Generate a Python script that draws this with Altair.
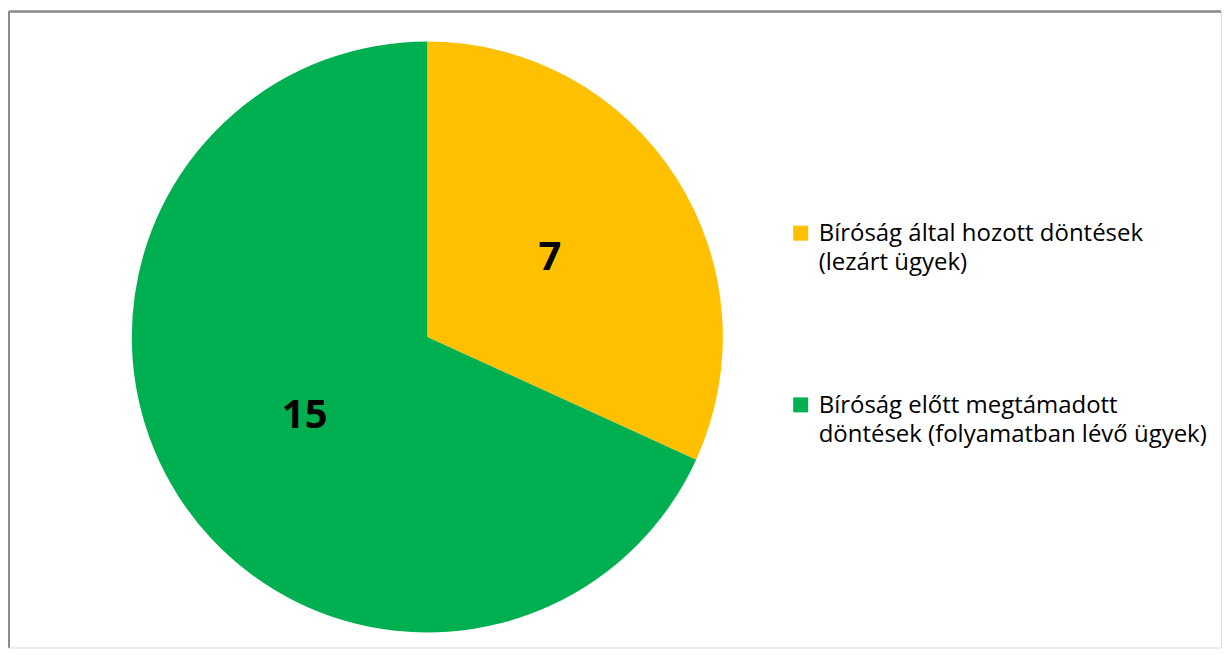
import altair as alt
import pandas as pd

categories = [
    "Bíróság által hozott döntések\n(lezárt ügyek)",
    "Bíróság előtt megtámadott\ndöntések (folyamatban lévő ügyek)",
]
values = [7, 15]
colors = ["#FFC000", "#00B050"]
order = [1, 2]

df = pd.DataFrame({"cat": categories, "val": values, "ord": order})

W, H = 1214, 637
cx, cy, R = 419, 326, 296
border = "#8a8a8a"

base = alt.Chart(df).encode(
    theta=alt.Theta("val:Q", stack=True),
    order=alt.Order("ord:Q"),
)

pie = base.mark_arc(radius=R, stroke=None).encode(
    x=alt.value(cx),
    y=alt.value(cy),
    color=alt.Color(
        "cat:N",
        scale=alt.Scale(domain=categories, range=colors),
        sort=categories,
        legend=alt.Legend(
            title=None,
            orient="none",
            legendX=781,
            legendY=210,
            symbolType="square",
            symbolSize=225,
            symbolStrokeWidth=0,
            labelFont="Open Sans",
            labelFontSize=24,
            labelColor="#000000",
            labelLimit=0,
            labelExpr="split(datum.label, '\\n')",
            labelBaseline="alphabetic",
            labelOffset=6,
            rowPadding=118,
        ),
    ),
)

labels = base.mark_text(
    radius=146, font="Open Sans", fontSize=40, fontWeight="bold", color="#000000"
).encode(x=alt.value(cx), y=alt.value(cy), text="val:Q")

top_rule = alt.Chart(df).mark_rule(color=border, strokeWidth=2).encode(
    x=alt.value(0), x2=alt.value(W), y=alt.value(0)
)
left_rule = alt.Chart(df).mark_rule(color=border, strokeWidth=2).encode(
    x=alt.value(0), y=alt.value(0), y2=alt.value(H)
)

chart = (
    alt.layer(pie, labels, top_rule, left_rule)
    .properties(width=W, height=H, padding={"top": 2, "left": 0, "right": 0, "bottom": 0})
    .configure_view(strokeWidth=2, stroke="#ffffff")
    .configure(style={"guide-label": {"lineHeight": 29, "dy": 8}})
)

chart.save("out.html", embed_options={"renderer": "svg", "actions": False})
